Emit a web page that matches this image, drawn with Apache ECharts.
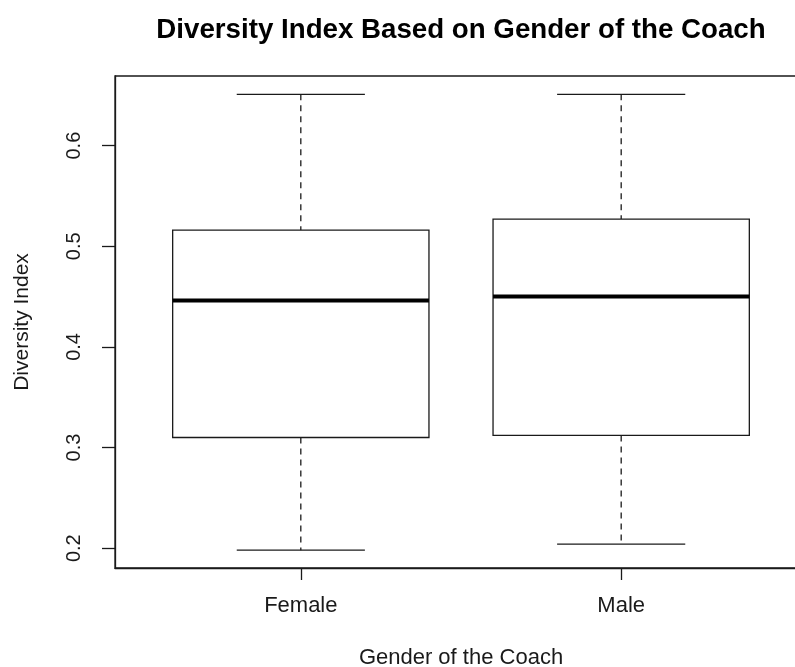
<!DOCTYPE html>
<html>
<head>
<meta charset="utf-8">
<script src="https://cdn.jsdelivr.net/npm/echarts@6/dist/echarts.min.js"></script>
<style>
  html, body { margin: 0; padding: 0; background: #ffffff; }
  #chart { width: 795px; height: 667px; }
</style>
</head>
<body>
<div id="chart"></div>
<script>
// Box-plot summary of the diversity index, one box per coach gender
const categories = ['Female', 'Male'];
const whiskerLow = [0.198, 0.204];
const lowerQuartile = [0.310, 0.312];
const medians = [0.446, 0.450];
const upperQuartile = [0.516, 0.527];
const whiskerHigh = [0.651, 0.651];
const yTicks = [0.2, 0.3, 0.4, 0.5, 0.6];

const FONT = 'Liberation Sans';
const INK = '#1a1a1a';

const boxData = categories.map((c, i) => [
  i + 1, whiskerLow[i], lowerQuartile[i], medians[i], upperQuartile[i], whiskerHigh[i]
]);

function renderBox(params, api) {
  const x = api.value(0);
  const lo = api.coord([x, api.value(1)]);
  const q1 = api.coord([x, api.value(2)]);
  const md = api.coord([x, api.value(3)]);
  const q3 = api.coord([x, api.value(4)]);
  const hi = api.coord([x, api.value(5)]);
  const boxW = api.size([0.8, 0])[0];
  const capW = api.size([0.4, 0])[0];
  const cx = md[0];
  const line = (x1, y1, x2, y2, style) => ({
    type: 'line',
    shape: { x1, y1, x2, y2 },
    style: Object.assign({ stroke: INK, lineWidth: 1.3 }, style || {})
  });
  const dashed = { lineDash: [6, 5] };
  return {
    type: 'group',
    children: [
      line(cx, hi[1], cx, q3[1], dashed),
      line(cx, q1[1], cx, lo[1], dashed),
      line(cx - capW / 2, hi[1], cx + capW / 2, hi[1]),
      line(cx - capW / 2, lo[1], cx + capW / 2, lo[1]),
      {
        type: 'rect',
        shape: { x: cx - boxW / 2, y: q3[1], width: boxW, height: q1[1] - q3[1] },
        style: { fill: '#ffffff', stroke: INK, lineWidth: 1.3 }
      },
      line(cx - boxW / 2, md[1], cx + boxW / 2, md[1], { lineWidth: 4, stroke: '#000' })
    ]
  };
}

const chart = echarts.init(document.getElementById('chart'), null, { renderer: 'canvas' });
chart.setOption({
  backgroundColor: '#ffffff',
  animation: false,
  title: {
    text: 'Diversity Index Based on Gender of the Coach',
    left: 456,
    top: 11,
    textAlign: 'center',
    textStyle: { fontFamily: FONT, fontWeight: 'bold', fontSize: 27.7, color: '#000' }
  },
  grid: {
    left: 115, right: -12, top: 76, bottom: 99,
    outerBoundsMode: 'none',
    containLabel: false,
    show: true, borderColor: INK, borderWidth: 1.3, backgroundColor: 'transparent'
  },
  xAxis: {
    type: 'value',
    min: 0.42,
    max: 2.58,
    name: 'Gender of the Coach',
    nameLocation: 'middle',
    nameGap: 79,
    nameTextStyle: { fontFamily: FONT, fontSize: 22, color: INK },
    axisLine: { show: true, lineStyle: { color: INK, width: 1.3 } },
    axisTick: { show: true, length: 12, customValues: [1, 2], lineStyle: { color: INK, width: 1.3 } },
    axisLabel: {
      customValues: [1, 2],
      margin: 27,
      fontFamily: FONT, fontSize: 22, color: INK,
      formatter: v => categories[Math.round(v) - 1] || ''
    },
    splitLine: { show: false }
  },
  yAxis: {
    type: 'value',
    min: 0.1803,
    max: 0.6692,
    name: 'Diversity Index',
    nameLocation: 'middle',
    nameGap: 82,
    nameTextStyle: { fontFamily: FONT, fontSize: 21, color: INK },
    axisLine: { show: true, lineStyle: { color: INK, width: 1.3 } },
    axisTick: { show: true, length: 13, customValues: yTicks, lineStyle: { color: INK, width: 1.3 } },
    axisLabel: {
      customValues: yTicks,
      rotate: 90,
      margin: 31,
      fontFamily: FONT, fontSize: 20, color: INK,
      formatter: v => v.toFixed(1)
    },
    splitLine: { show: false }
  },
  series: [{
    type: 'custom',
    renderItem: renderBox,
    encode: { x: 0, y: [1, 2, 3, 4, 5] },
    data: boxData
  }]
});
</script>
</body>
</html>
